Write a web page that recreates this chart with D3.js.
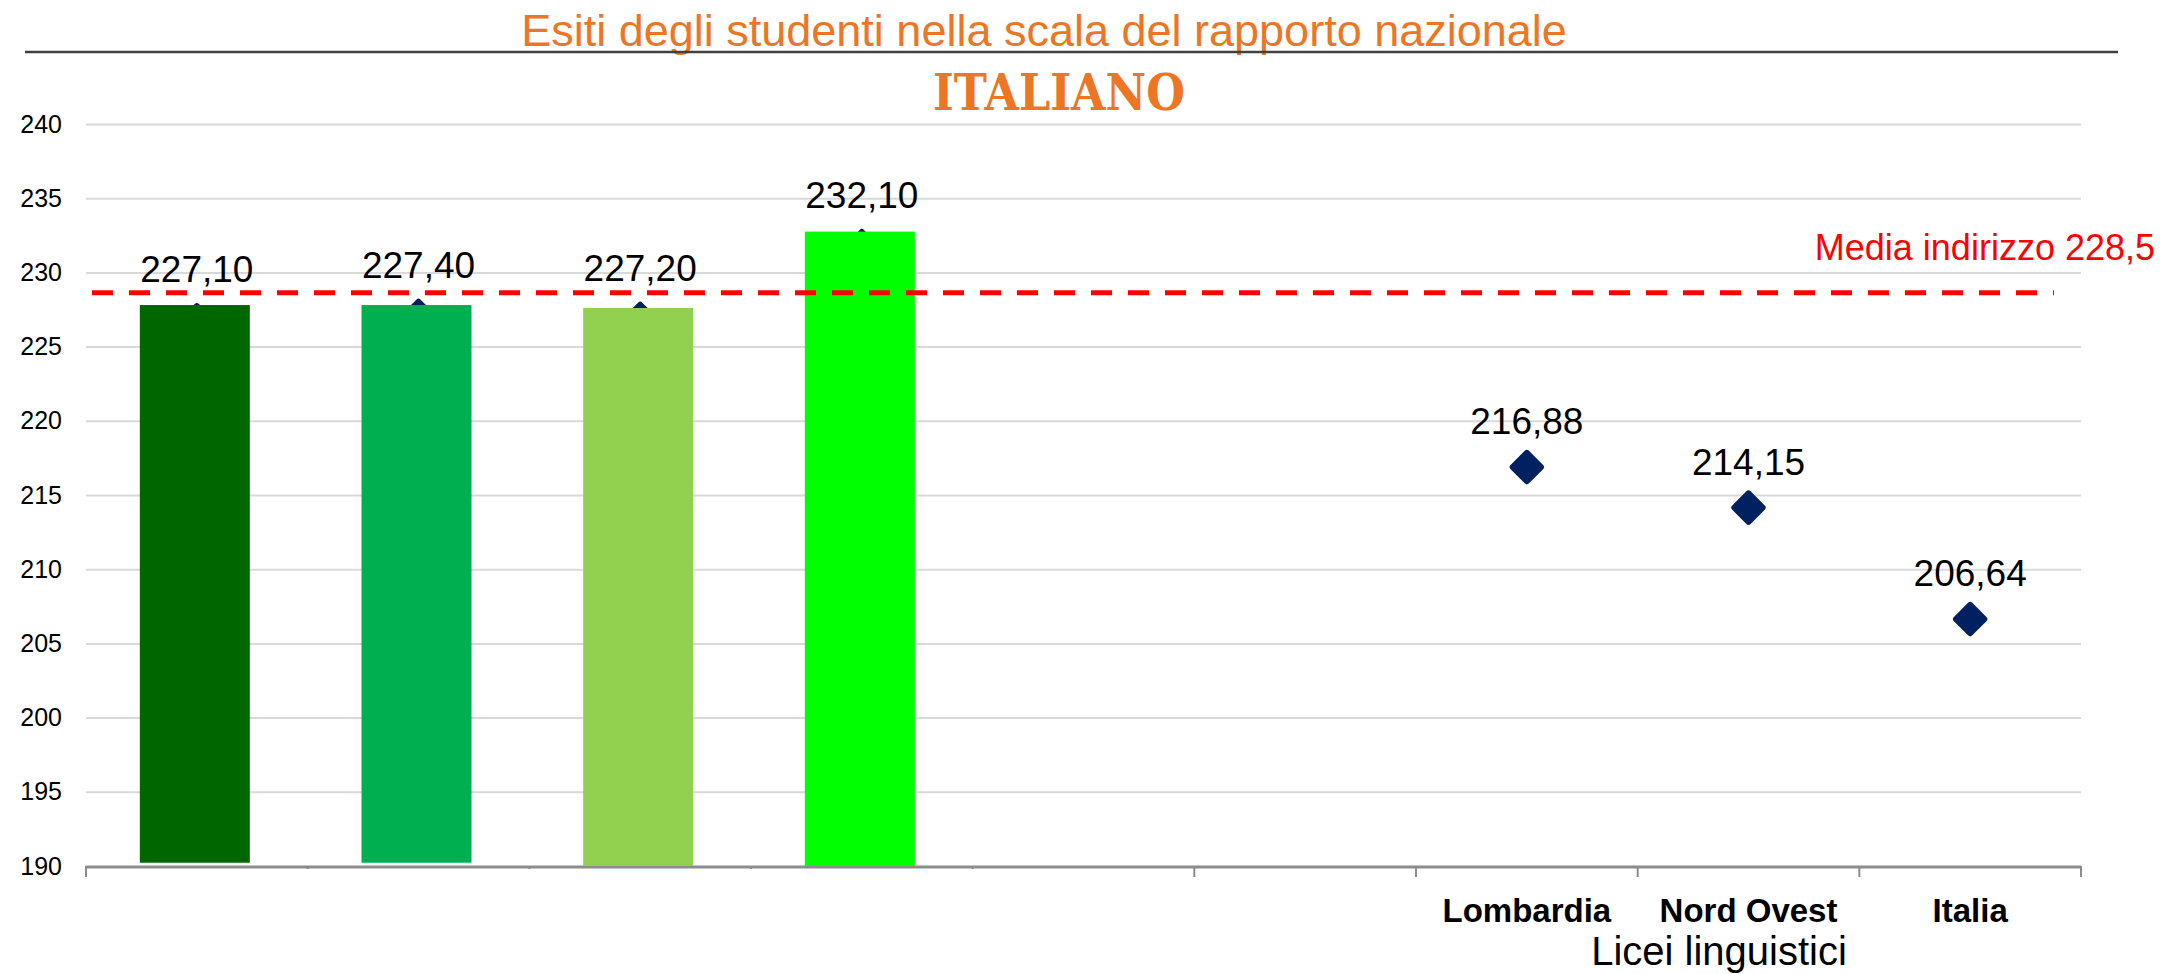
<!DOCTYPE html>
<html>
<head>
<meta charset="utf-8">
<script src="https://cdn.jsdelivr.net/npm/d3@7"></script>
<style>
    body { margin: 0; background: #fff; }
    text { font-family: "Liberation Sans", Arial, sans-serif; }
</style>
</head>
<body>
<svg id="chart" width="2164" height="974"></svg>
<script>
// data
const categoryLabels = ["", "", "", "", "", "", "Lombardia", "Nord Ovest", "Italia"]
const scores = [227.10, 227.40, 227.20, 232.10, null, null, 216.88, 214.15, 206.64]
// the school bars are drawn a bit above their markers in the original
const barTops = [227.8, 227.8, 227.6, 232.75]
const barBases = [190.22, 190.22, 190, 190]
const mediaIndirizzo = 228.5
const yTicks = [190, 195, 200, 205, 210, 215, 220, 225, 230, 235, 240]

const TITLE = "Esiti degli studenti nella scala del rapporto nazionale"
const SUBTITLE = "ITALIANO"
const X_TITLE = "Licei linguistici"

const BAR_COLORS = ["#006600", "#00b050", "#92d050", "#00ff00"]
const ORANGE = "#ed7625"
const NAVY = "#002060"

const PLOT_LEFT = 86
const PLOT_RIGHT = 2081
const PLOT_TOP = 124
const PLOT_BOTTOM = 866

const svg = d3.select("#chart");

const itFormat = d3.formatLocale({decimal: ",", thousands: ".", grouping: [3], currency: ["€", ""]})
const fmt2 = itFormat.format(".2f")
const fmt1 = itFormat.format(".1f")

const xScale = d3.scaleBand()
    .domain(d3.range(categoryLabels.length))
    .range([PLOT_LEFT, PLOT_RIGHT])
    .paddingInner(0)
    .paddingOuter(0);

const yScale = d3.scaleLinear()
    .domain([190, 240])
    .range([PLOT_BOTTOM, PLOT_TOP]);

// Title
svg.append("text")
    .attr("x", 1044)
    .attr("y", 46)
    .attr("text-anchor", "middle")
    .style("font-size", "45px")
    .style("fill", ORANGE)
    .text(TITLE);

svg.append("line")
    .attr("x1", 25)
    .attr("x2", 2118)
    .attr("y1", 52)
    .attr("y2", 52)
    .style("stroke", "#404040")
    .style("stroke-width", 2.5);

svg.append("text")
    .attr("x", 1059)
    .attr("y", 110)
    .attr("text-anchor", "middle")
    .attr("textLength", 252)
    .attr("lengthAdjust", "spacingAndGlyphs")
    .style("font-family", "'DejaVu Serif', serif")
    .style("font-weight", "bold")
    .style("font-size", "51px")
    .style("fill", ORANGE)
    .text(SUBTITLE);

// Y grid
svg.append("g")
    .attr("class", "axis-grid")
    .attr("transform", `translate(${PLOT_LEFT}, 0)`)
    .call(d3.axisLeft(yScale).tickValues(yTicks.filter(d => d > 190)).tickSize(-(PLOT_RIGHT - PLOT_LEFT)).tickFormat(""))
    .call(g => g.select(".domain").remove())
    .call(g => g.selectAll("line").style("stroke", "#d9d9d9").style("stroke-width", 2));

// Y axis labels
svg.append("g")
    .attr("transform", `translate(${PLOT_LEFT}, 0)`)
    .call(d3.axisLeft(yScale).tickValues(yTicks).tickSize(0).tickPadding(24).tickFormat(d3.format("d")))
    .call(g => g.select(".domain").remove())
    .call(g => g.selectAll("text")
        .style("font-family", "'Liberation Sans', Arial, sans-serif")
        .style("font-size", "25px")
        .style("fill", "#000"));

// X axis line + ticks at category boundaries
const boundaries = d3.range(categoryLabels.length + 1)
svg.append("line")
    .attr("x1", PLOT_LEFT)
    .attr("x2", PLOT_RIGHT)
    .attr("y1", yScale(190) + 1)
    .attr("y2", yScale(190) + 1)
    .style("stroke", "#8c8c8c")
    .style("stroke-width", 3);

svg.selectAll(".xtick")
    .data(boundaries)
    .enter()
    .append("line")
    .attr("class", "xtick")
    .attr("x1", d => PLOT_LEFT + d * xScale.step())
    .attr("x2", d => PLOT_LEFT + d * xScale.step())
    .attr("y1", yScale(190))
    .attr("y2", d => yScale(190) + (d === 0 || d >= 5 ? 11 : 3))
    .style("stroke", "#8c8c8c")
    .style("stroke-width", 2);

// category labels
svg.selectAll(".xlabel")
    .data(categoryLabels)
    .enter()
    .append("text")
    .attr("class", "xlabel")
    .attr("x", (d, i) => xScale(i) + xScale.bandwidth() / 2)
    .attr("y", 922)
    .attr("text-anchor", "middle")
    .style("font-size", "33px")
    .style("font-weight", "bold")
    .text(d => d);

svg.append("text")
    .attr("x", 1719)
    .attr("y", 965)
    .attr("text-anchor", "middle")
    .style("font-size", "40px")
    .text(X_TITLE);

// markers (the first four sit behind the bars)
const points = scores
    .map((v, i) => ({i: i, v: v}))
    .filter(d => d.v !== null)

svg.selectAll(".marker")
    .data(points)
    .enter()
    .append("rect")
    .attr("class", "marker")
    .each(function (d) {
        const half = d.i < 4 ? 9.5 : 13
        d3.select(this)
            .attr("x", -half)
            .attr("y", -half)
            .attr("width", half * 2)
            .attr("height", half * 2)
            .attr("rx", 3)
    })
    .attr("transform", d => `translate(${xScale(d.i) + xScale.bandwidth() / 2}, ${yScale(d.v)}) rotate(45)`)
    .style("fill", NAVY);

// bars
const BAR_W = 110
svg.selectAll(".bar")
    .data(barTops)
    .enter()
    .append("rect")
    .attr("class", "bar")
    .attr("x", (d, i) => xScale(i) + xScale.bandwidth() / 2 - BAR_W / 2 - 2)
    .attr("y", d => yScale(d))
    .attr("width", BAR_W)
    .attr("height", (d, i) => yScale(barBases[i]) - yScale(d))
    .style("fill", (d, i) => BAR_COLORS[i]);

// reference line
svg.append("line")
    .attr("x1", 92)
    .attr("x2", 2054)
    .attr("y1", yScale(mediaIndirizzo) - 2)
    .attr("y2", yScale(mediaIndirizzo) - 2)
    .style("stroke", "#ff0000")
    .style("stroke-width", 5)
    .style("stroke-dasharray", "21 16");

svg.append("text")
    .attr("x", 2155)
    .attr("y", 260)
    .attr("text-anchor", "end")
    .style("font-size", "36px")
    .style("fill", "#ff0000")
    .text(`Media indirizzo ${fmt1(mediaIndirizzo)}`);

// value labels
svg.selectAll(".vlabel")
    .data(points)
    .enter()
    .append("text")
    .attr("class", "vlabel")
    .attr("x", d => xScale(d.i) + xScale.bandwidth() / 2)
    .attr("y", d => yScale(d.v) - 33)
    .attr("text-anchor", "middle")
    .style("font-size", "37px")
    .style("fill", "#000")
    .text(d => fmt2(d.v));
</script>
</body>
</html>
